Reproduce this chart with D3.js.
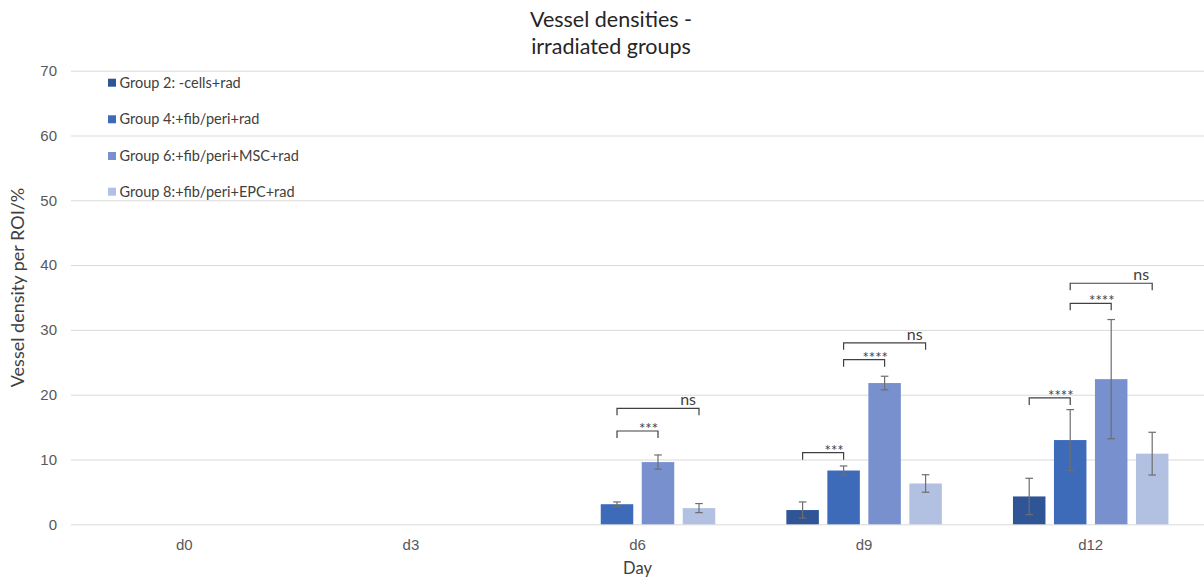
<!DOCTYPE html>
<html>
<head>
<meta charset="utf-8">
<script src="https://cdn.jsdelivr.net/npm/d3@7/dist/d3.min.js"></script>
<style>
  body { margin: 0; background: #fff; }
  svg { display: block; font-family: Lato, "Open Sans", sans-serif; }
</style>
</head>
<body>
<svg id="chart" width="1204" height="580"></svg>
<script>
// Days sampled and the four irradiated groups
const days = ["d0", "d3", "d6", "d9", "d12"];
const groups = ["Group 2: -cells+rad", "Group 4:+fib/peri+rad", "Group 6:+fib/peri+MSC+rad", "Group 8:+fib/peri+EPC+rad"];
const colors = ["#2F5597", "#3D6BBA", "#7891CE", "#B2C0E1"];

// Mean vessel density (%) per day, one array per group (null = not measured)
const group2 = [null, null, null, 2.2, 4.3];
const group4 = [null, null, 3.1, 8.3, 13.0];
const group6 = [null, null, 9.6, 21.8, 22.4];
const group8 = [null, null, 2.5, 6.3, 10.9];

// Error bar half-lengths
const err2 = [null, null, null, 1.25, 2.8];
const err4 = [null, null, 0.35, 0.7, 4.7];
const err6 = [null, null, 1.1, 1.05, 9.2];
const err8 = [null, null, 0.7, 1.35, 3.3];

// Y axis ticks
const yTicks = [0, 10, 20, 30, 40, 50, 60, 70];

// Significance brackets: day, first group index, second group index, height, label
const bracketDay = ["d6", "d6", "d9", "d9", "d9", "d12", "d12", "d12"];
const bracketFrom = [1, 1, 0, 1, 1, 0, 1, 1];
const bracketTo = [2, 3, 1, 2, 3, 1, 2, 3];
const bracketLevel = [14.4, 17.9, 11.05, 25.4, 28.0, 19.5, 34.1, 37.2];
const bracketLabel = ["***", "ns", "***", "****", "ns", "****", "****", "ns"];

const values = [group2, group4, group6, group8];
const errors = [err2, err4, err6, err8];

const svg = d3.select("#chart");
const W = 1204, H = 580;
const margin = { top: 70.7, right: 0, bottom: 55.7, left: 71 };
const innerW = W - margin.left - margin.right;
const innerH = H - margin.top - margin.bottom;

const g = svg.append("g").attr("transform", `translate(${margin.left},${margin.top})`);

const x0 = d3.scaleBand().domain(days).range([0, innerW]).padding(0);
const groupW = 155.5;
const x1 = d3.scaleBand().domain(d3.range(groups.length)).range([0, groupW]).paddingInner(0.207).paddingOuter(0);
const groupOffset = (x0.bandwidth() - groupW) / 2;
const y = d3.scaleLinear().domain([0, 70]).range([innerH, 0]);

// Horizontal gridlines and y tick labels
const yAxis = g.append("g")
  .call(d3.axisLeft(y).tickValues(yTicks).tickSize(-innerW).tickPadding(14));
yAxis.select(".domain").remove();
yAxis.selectAll(".tick line").attr("stroke", "#D9D9D9").attr("stroke-width", 1);
yAxis.selectAll(".tick text").attr("fill", "#595959").style("font-size", "15px");

// Category labels
const xAxis = g.append("g")
  .attr("transform", `translate(0,${innerH})`)
  .call(d3.axisBottom(x0).tickSize(0).tickPadding(15));
xAxis.select(".domain").remove();
xAxis.selectAll(".tick text").attr("fill", "#595959").style("font-size", "15px");

// Flattened bar records
const bars = [];
days.forEach((d, i) => {
  groups.forEach((grp, k) => {
    const v = values[k][i];
    if (v != null) bars.push({ day: d, k, v, e: errors[k][i] });
  });
});

const barX = (day, k) => x0(day) + groupOffset + x1(k);
const barC = (day, k) => barX(day, k) + x1.bandwidth() / 2;

g.append("g").selectAll("rect").data(bars).join("rect")
  .attr("x", d => barX(d.day, d.k))
  .attr("y", d => y(d.v))
  .attr("width", x1.bandwidth())
  .attr("height", d => y(0) - y(d.v))
  .attr("fill", d => colors[d.k]);

// Error bars
const eb = g.append("g").attr("stroke", "#6E6E6E").attr("stroke-width", 1.2);
bars.filter(d => d.e != null).forEach(d => {
  const cx = barC(d.day, d.k);
  const yt = y(d.v + d.e), yb = y(d.v - d.e);
  eb.append("line").attr("x1", cx).attr("x2", cx).attr("y1", yt).attr("y2", yb);
  eb.append("line").attr("x1", cx - 3.8).attr("x2", cx + 3.8).attr("y1", yt).attr("y2", yt);
  eb.append("line").attr("x1", cx - 3.8).attr("x2", cx + 3.8).attr("y1", yb).attr("y2", yb);
});

// Significance brackets
const br = g.append("g");
bracketDay.forEach((day, i) => {
  const xa = barC(day, bracketFrom[i]);
  const xb = barC(day, bracketTo[i]);
  const yy = y(bracketLevel[i]);
  br.append("path")
    .attr("d", `M${xa},${yy + 7}V${yy}H${xb}V${yy + 7}`)
    .attr("fill", "none").attr("stroke", "#404040").attr("stroke-width", 1.2);
  const lab = bracketLabel[i];
  if (lab === "ns") {
    br.append("text").attr("x", xb - 3).attr("y", yy - 3)
      .attr("text-anchor", "end").attr("fill", "#404040")
      .style("font-size", "16px").text(lab);
  } else {
    br.append("text").attr("x", xa + 0.77 * (xb - xa)).attr("y", yy + 3)
      .attr("text-anchor", "middle").attr("fill", "#404040")
      .style("font-size", "15px").text(lab);
  }
});

// Legend
const legend = svg.append("g").attr("transform", "translate(108,0)");
const legendY = [82.7, 119.3, 156, 191.7];
groups.forEach((grp, k) => {
  legend.append("rect").attr("x", 0).attr("y", legendY[k] - 4).attr("width", 8).attr("height", 8).attr("fill", colors[k]);
  legend.append("text").attr("x", 11.5).attr("y", legendY[k]).attr("dy", "0.35em")
    .attr("fill", "#404040").style("font-size", "14.5px").text(grp);
});

// Title
svg.append("text").attr("x", 611).attr("y", 27).attr("text-anchor", "middle")
  .attr("fill", "#262626").style("font-size", "21.5px").text("Vessel densities -");
svg.append("text").attr("x", 611).attr("y", 54).attr("text-anchor", "middle")
  .attr("fill", "#262626").style("font-size", "21.5px").text("irradiated groups");

// Axis titles
svg.append("text").attr("x", margin.left + innerW / 2).attr("y", 574).attr("text-anchor", "middle")
  .attr("fill", "#404040").style("font-size", "16.5px").text("Day");
svg.append("text").attr("transform", `translate(24,${margin.top + innerH / 2 - 10}) rotate(-90)`)
  .attr("text-anchor", "middle").attr("fill", "#404040").style("font-size", "18px")
  .text("Vessel density per ROI/%");
</script>
</body>
</html>
